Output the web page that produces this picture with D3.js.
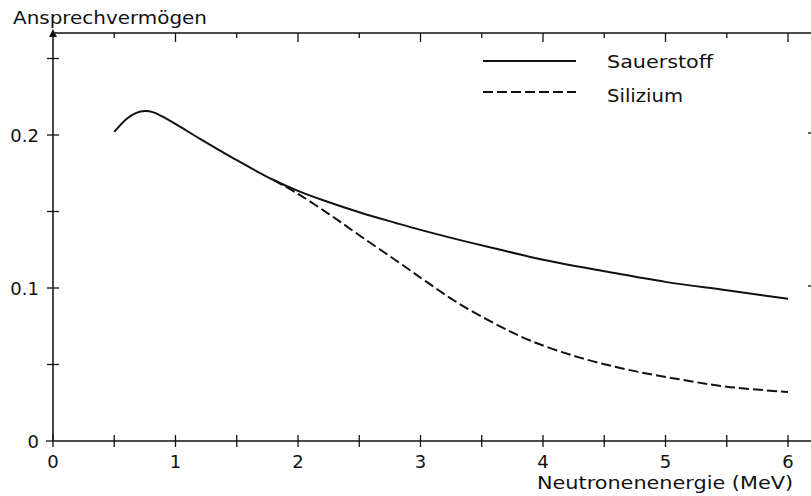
<!DOCTYPE html>
<html><head><meta charset="utf-8">
<script src="https://cdn.jsdelivr.net/npm/d3@7/dist/d3.min.js"></script>
<style>body{margin:0;background:#fff}svg{display:block}text{font-family:"DejaVu Sans",sans-serif;fill:#111}</style>
</head><body>
<script>
const sauerstoffE = [0.5, 0.6, 0.68, 0.75, 0.82, 0.9, 1.0, 1.2, 1.5, 1.8, 2.0, 2.2, 2.5, 2.8, 3.0, 3.3, 3.6, 4.0, 4.5, 5.0, 5.5, 6.0];
const sauerstoffV = [0.202, 0.2105, 0.2145, 0.2157, 0.2148, 0.2118, 0.2072, 0.1975, 0.1835, 0.1706, 0.1635, 0.1575, 0.1495, 0.1425, 0.138, 0.1318, 0.126, 0.1185, 0.111, 0.104, 0.0985, 0.093];
const siliziumE = [1.8, 2.0, 2.25, 2.5, 2.8, 3.05, 3.3, 3.6, 3.9, 4.3, 4.7, 5.1, 5.5, 6.0];
const siliziumV = [0.1706, 0.1615, 0.1485, 0.1345, 0.118, 0.104, 0.0905, 0.077, 0.0655, 0.0545, 0.0465, 0.0405, 0.0355, 0.032];
const xTicks = [0, 1, 2, 3, 4, 5, 6];
const xMinor = [0.5, 1.5, 2.5, 3.5, 4.5, 5.5];
const yTicks = [0, 0.1, 0.2];
const yMinor = [0.05, 0.15, 0.25];
const yLabels = ["0", "0.1", "0.2"];
const seriesNames = ["Sauerstoff", "Silizium"];

const W = 811, H = 496;
const svg = d3.select("body").append("svg").attr("width", W).attr("height", H);
const x = d3.scaleLinear().domain([0, 6]).range([53, 788]);
const y = d3.scaleLinear().domain([0, 0.2]).range([441, 135]);
const yTop = 0.2667, xEnd = 6.19;
const ink = "#111";

// axes lines
svg.append("line").attr("x1", x(0)).attr("x2", x(xEnd)).attr("y1", y(0)).attr("y2", y(0)).attr("stroke", ink).attr("stroke-width", 1.5);
svg.append("line").attr("x1", x(0)).attr("x2", x(xEnd)).attr("y1", y(yTop)).attr("y2", y(yTop)).attr("stroke", ink).attr("stroke-width", 1.5);
svg.append("line").attr("x1", x(0)).attr("x2", x(0)).attr("y1", y(0)).attr("y2", y(yTop) + 3).attr("stroke", ink).attr("stroke-width", 1.5);
// arrow
svg.append("path").attr("d", `M${x(0)},${y(yTop) - 4} L${x(0) - 4},${y(yTop) + 4} L${x(0) + 4},${y(yTop) + 4} Z`).attr("fill", ink);

// bottom ticks
svg.selectAll(".bt").data(xTicks.concat(xMinor)).enter().append("line")
  .attr("x1", d => x(d)).attr("x2", d => x(d))
  .attr("y1", y(0) - 6).attr("y2", y(0) + 6).attr("stroke", ink).attr("stroke-width", 1.3);
// top ticks
svg.selectAll(".tt").data(xTicks.slice(1).concat(xMinor)).enter().append("line")
  .attr("x1", d => x(d)).attr("x2", d => x(d))
  .attr("y1", y(yTop)).attr("y2", d => y(yTop) + (Number.isInteger(d) ? 9 : 5)).attr("stroke", ink).attr("stroke-width", 1.3);
// left ticks
svg.selectAll(".lt").data(yTicks.concat(yMinor)).enter().append("line")
  .attr("x1", d => d === 0 ? x(0) - 7 : x(0) - 6).attr("x2", d => d === 0 ? x(0) : x(0) + 6)
  .attr("y1", d => y(d)).attr("y2", d => y(d)).attr("stroke", ink).attr("stroke-width", 1.3);
// right edge tick marks
svg.selectAll(".rt").data([0.1, 0.2]).enter().append("line")
  .attr("x1", W - 3).attr("x2", W).attr("y1", d => y(d) - 2).attr("y2", d => y(d) - 2).attr("stroke", ink).attr("stroke-width", 1.3);

// labels
svg.selectAll(".xl").data(xTicks).enter().append("text")
  .attr("x", d => x(d)).attr("y", 468).attr("text-anchor", "middle").attr("font-size", 18).text(d => d);
svg.selectAll(".yl").data(yTicks).enter().append("text")
  .attr("x", 39).attr("y", d => y(d) + 7).attr("text-anchor", "end").attr("font-size", 18).text((d, i) => yLabels[i]);

svg.append("text").attr("x", 13).attr("y", 24).attr("font-size", 17).attr("textLength", 194).attr("lengthAdjust", "spacingAndGlyphs").text("Ansprechvermögen");
svg.append("text").attr("x", 537).attr("y", 489).attr("font-size", 17).attr("textLength", 256).attr("lengthAdjust", "spacingAndGlyphs").text("Neutronenenergie (MeV)");

// curves
const line = d3.line().x(d => x(d[0])).y(d => y(d[1])).curve(d3.curveCatmullRom.alpha(0.5));
const sData = sauerstoffE.map((e, i) => [e, sauerstoffV[i]]);
const siData = siliziumE.map((e, i) => [e, siliziumV[i]]);
svg.append("path").attr("d", line(sData)).attr("fill", "none").attr("stroke", ink).attr("stroke-width", 2);
svg.append("path").attr("d", line(siData)).attr("fill", "none").attr("stroke", ink).attr("stroke-width", 2).attr("stroke-dasharray", "10,4");

// legend
const leg = [{y: 61, dash: null, tx: 68, tl: 106}, {y: 92, dash: "10,4", tx: 102, tl: 76}];
leg.forEach((l, i) => {
  svg.append("line").attr("x1", 483).attr("x2", 576).attr("y1", l.y).attr("y2", l.y)
    .attr("stroke", ink).attr("stroke-width", 2).attr("stroke-dasharray", l.dash);
  svg.append("text").attr("x", 607).attr("y", l.tx).attr("font-size", 18).attr("textLength", l.tl).attr("lengthAdjust", "spacingAndGlyphs").text(seriesNames[i]);
});
</script>
</body></html>
